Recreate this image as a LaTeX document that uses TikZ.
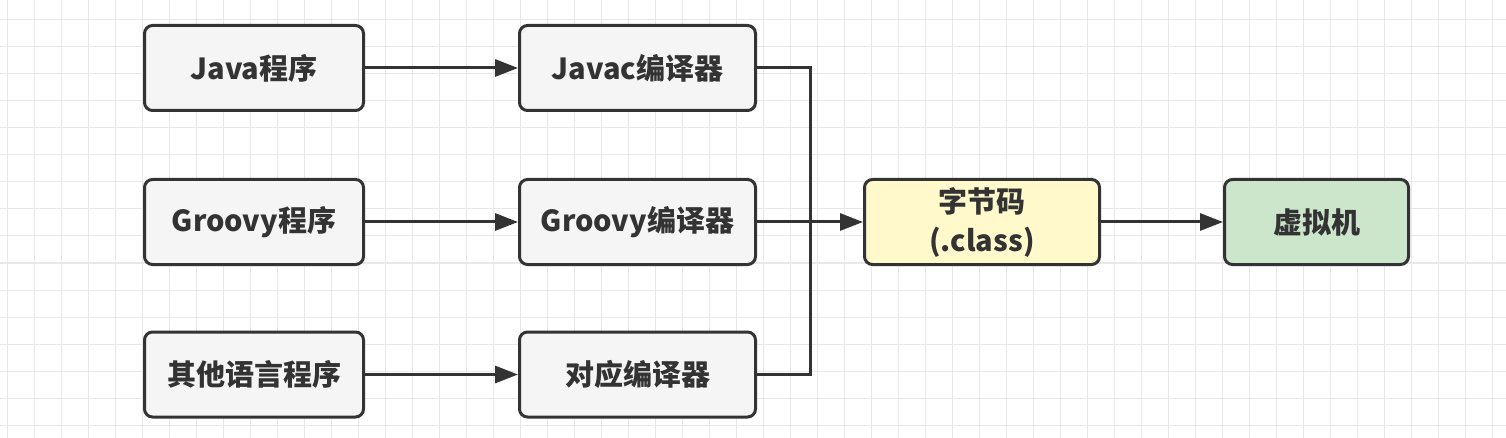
\documentclass[tikz,border=0pt]{standalone}
\usepackage{fontspec}
\setmainfont{Noto Sans CJK SC}
\usetikzlibrary{arrows.meta}
\definecolor{gridc}{HTML}{E8E8E8}
\definecolor{edgec}{HTML}{333333}
\definecolor{boxgray}{HTML}{F5F5F5}
\definecolor{boxyellow}{HTML}{FFF9CB}
\definecolor{boxgreen}{HTML}{CCE6CC}
\tikzset{
  box/.style={draw=edgec, line width=3pt, rounded corners=8pt, fill=boxgray,
    minimum height=85pt, inner sep=0pt, align=center, text=edgec,
    font=\fontsize{29}{39}\selectfont\bfseries},
  conn/.style={draw=edgec, line width=3pt},
  arr/.style={conn, -{Triangle[length=23pt,width=17pt]}},
}
\begin{document}
\begin{tikzpicture}[x=1pt,y=-1pt]
\useasboundingbox (0,0) rectangle (1506,438);
\fill[white] (0,0) rectangle (1506,438);
\foreach \i in {0,...,55} {\draw[gridc, line width=1pt] (7+27*\i,0) -- (7+27*\i,438);}
\foreach \j in {0,...,16} {\draw[gridc, line width=1pt] (0,-7+27*\j) -- (1506,-7+27*\j);}

\node[box, minimum width=219pt] (java) at (254,68) {Java程序};
\node[box, minimum width=219pt] (groovy) at (254,222) {Groovy程序};
\node[box, minimum width=219pt] (other) at (254,374.5) {其他语言程序};

\node[box, minimum width=236pt] (javac) at (637.5,68) {Javac编译器};
\node[box, minimum width=236pt] (groovyc) at (637.5,222) {Groovy编译器};
\node[box, minimum width=236pt] (otherc) at (637.5,374.5) {对应编译器};

\node[box, fill=boxyellow, minimum width=235pt] (bc) at (982,222) {字节码\\(.class)};
\node[box, fill=boxgreen, minimum width=184pt] (vm) at (1316.5,222) {虚拟机};

\coordinate (bus) at (810,222);

\draw[arr] (java) -- (javac);
\draw[arr] (groovy) -- (groovyc);
\draw[arr] (other) -- (otherc);
\draw[conn] (javac.east) -| (bus) |- (otherc.east);
\draw[arr] (groovyc) -- (bc);
\draw[arr] (bc) -- (vm);
\end{tikzpicture}
\end{document}
